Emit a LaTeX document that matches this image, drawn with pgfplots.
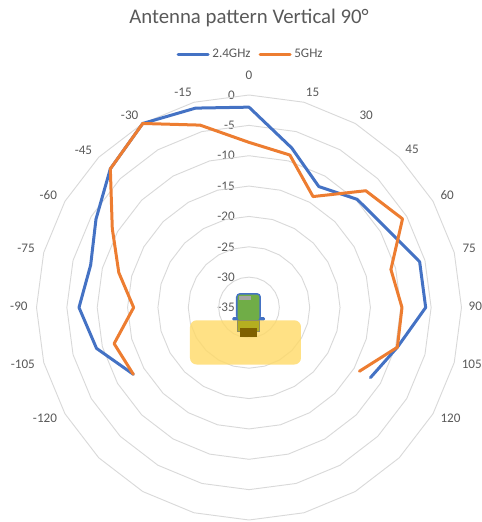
\documentclass[border=0pt]{standalone}
\usepackage{pgfplots}
\usepackage{pgfplotstable}
\usepackage{fontspec}
\setmainfont{Carlito}
\pgfplotsset{compat=1.18}
\usepgfplotslibrary{polar}
\definecolor{ringgray}{HTML}{D9D9D9}
\definecolor{txtgray}{HTML}{595959}
\definecolor{blueline}{HTML}{4472C4}
\definecolor{orangeline}{HTML}{ED7D31}
\definecolor{devgreen}{HTML}{70AD47}
\definecolor{devgray}{HTML}{A5A5A5}
\definecolor{devbrown}{HTML}{7F6000}
\definecolor{devolive}{HTML}{B5AE20}
\definecolor{padyellow}{HTML}{FFD966}

% measured pattern, dB
\pgfplotstableread{
ang  g24    g5
-120 -13.0 -13.0
-105 -9.0  -12.0
-90  -7.0  -16.0
-75  -8.0  -12.8
-60  -5.9  -9.0
-45  -2.7  -2.7
-30  0.0   0.0
-15  -1.0  -3.9
0    -2.0  -7.8
15   -7.8  -9.0
30   -12.0 -13.9
45   -9.8  -7.8
60   -8.9  -5.8
75   -5.9  -10.8
90   -5.9  -9.8
105  -9.7  -9.7
120  -11.9 -14.0
}\antdata

% polygon rings of the radar grid
\pgfplotstableread{
ang r30 r25 r20 r15 r10 r5 r0
0   -30 -25 -20 -15 -10 -5 0
15  -30 -25 -20 -15 -10 -5 0
30  -30 -25 -20 -15 -10 -5 0
45  -30 -25 -20 -15 -10 -5 0
60  -30 -25 -20 -15 -10 -5 0
75  -30 -25 -20 -15 -10 -5 0
90  -30 -25 -20 -15 -10 -5 0
105 -30 -25 -20 -15 -10 -5 0
120 -30 -25 -20 -15 -10 -5 0
135 -30 -25 -20 -15 -10 -5 0
150 -30 -25 -20 -15 -10 -5 0
165 -30 -25 -20 -15 -10 -5 0
180 -30 -25 -20 -15 -10 -5 0
195 -30 -25 -20 -15 -10 -5 0
210 -30 -25 -20 -15 -10 -5 0
225 -30 -25 -20 -15 -10 -5 0
240 -30 -25 -20 -15 -10 -5 0
255 -30 -25 -20 -15 -10 -5 0
270 -30 -25 -20 -15 -10 -5 0
285 -30 -25 -20 -15 -10 -5 0
300 -30 -25 -20 -15 -10 -5 0
315 -30 -25 -20 -15 -10 -5 0
330 -30 -25 -20 -15 -10 -5 0
345 -30 -25 -20 -15 -10 -5 0
360 -30 -25 -20 -15 -10 -5 0
}\ringdata

% angle labels: text, position angle and radius just outside the outer ring
\pgfplotstableread{
lab pos r
-120 -118.4 3.2
-105 -104.1 3.4
-90 -89.6 2.9
-75 -75.1 3.0
-60 -60.7 2.9
-45 -46.4 2.65
-30 -31.8 2.3
-15 -17.0 2.1
0 0 3.2
15 16.5 1.9
30 31.3 2.15
45 45.9 2.4
60 60.4 2.55
75 75 2.55
90 89.6 2.28
105 104.3 2.87
120 118.7 2.85
}\labeldata

\begin{document}
\begin{tikzpicture}
\begin{polaraxis}[
    at={(0,0)}, anchor=center,
    scale only axis,
    width=318.75pt, height=318.75pt,
    clip=false,
    xmin=90, xmax=450,
    y coord trafo/.code={\pgfmathparse{#1+35}},
    y coord inv trafo/.code={\pgfmathparse{#1-35}},
    ymin=-35, ymax=0,
    xtick=\empty,
    ytick={-35,-30,-25,-20,-15,-10,-5,0},
    yticklabels={-35,-30,-25,-20,-15,-10,-5,0},
    axis line style={draw=none},
    major tick style={draw=none},
    ymajorgrids=false, xmajorgrids=false,
    font=\fontsize{9.85pt}{11pt}\selectfont,
    yticklabel style={anchor=east, text=txtgray, inner sep=0pt, xshift=-10.5pt},
    title={Antenna pattern Vertical 90°},
    title style={at={(0.5,1.135)}, anchor=center, font=\fontsize{15.6pt}{18pt}\selectfont, text=txtgray},
    legend columns=2,
    legend style={at={(0.5047,1.0953)}, anchor=center, draw=none, fill=none,
        font=\fontsize{9.85pt}{11pt}\selectfont, text=txtgray,
        /tikz/every even column/.append style={column sep=4pt}},
    legend image code/.code={\draw[#1] (0cm,0cm) -- (22.5pt,0cm);},
]
\addplot[ringgray, line width=0.7pt, forget plot] table[x expr=90-\thisrow{ang}, y=r30]{\ringdata};
\addplot[ringgray, line width=0.7pt, forget plot] table[x expr=90-\thisrow{ang}, y=r25]{\ringdata};
\addplot[ringgray, line width=0.7pt, forget plot] table[x expr=90-\thisrow{ang}, y=r20]{\ringdata};
\addplot[ringgray, line width=0.7pt, forget plot] table[x expr=90-\thisrow{ang}, y=r15]{\ringdata};
\addplot[ringgray, line width=0.7pt, forget plot] table[x expr=90-\thisrow{ang}, y=r10]{\ringdata};
\addplot[ringgray, line width=0.7pt, forget plot] table[x expr=90-\thisrow{ang}, y=r5]{\ringdata};
\addplot[ringgray, line width=0.7pt, forget plot] table[x expr=90-\thisrow{ang}, y=r0]{\ringdata};
\addplot[blueline, line width=2.25pt, line join=round, line cap=round] table[x expr=90-\thisrow{ang}, y=g24]{\antdata};
\addlegendentry{2.4GHz}
\addplot[orangeline, line width=2.25pt, line join=round, line cap=round] table[x expr=90-\thisrow{ang}, y=g5]{\antdata};
\addlegendentry{5GHz}
\addplot[draw=none, mark=none, forget plot, point meta=explicit symbolic,
    nodes near coords,
    every node near coord/.append style={anchor=center, text=txtgray, inner sep=0pt,
        font=\fontsize{9.85pt}{11pt}\selectfont}]
    table[x expr=90-\thisrow{pos}, y=r, meta=lab]{\labeldata};
\end{polaraxis}
% antenna sketch over the grid, coordinates in reference pixels
\begin{scope}[x=0.75pt, y=-0.75pt, shift={(-249,-307.5)}]
\fill[blueline, rounded corners=1pt] (232.3,317) rectangle (265,320.7);
\fill[blueline, rounded corners=3pt] (236,293) rectangle (261,320);
\fill[devgreen, rounded corners=2pt] (237.7,294.5) rectangle (259.3,320.5);
\fill[devgray] (239.3,296.3) rectangle (251,300);
\fill[padyellow, fill opacity=0.8, rounded corners=5pt] (190,320.3) rectangle (301,364.5);
\filldraw[fill=devolive, draw=gray!70!devolive, line width=0.4pt] (237.7,320.3) rectangle (259.3,331.5);
\fill[devbrown] (240,328) rectangle (257.3,337);
\end{scope}
\pgfresetboundingbox
\path[use as bounding box] (-186.75pt,-160.875pt) rectangle (174.75pt,230.625pt);
\end{tikzpicture}
\end{document}
